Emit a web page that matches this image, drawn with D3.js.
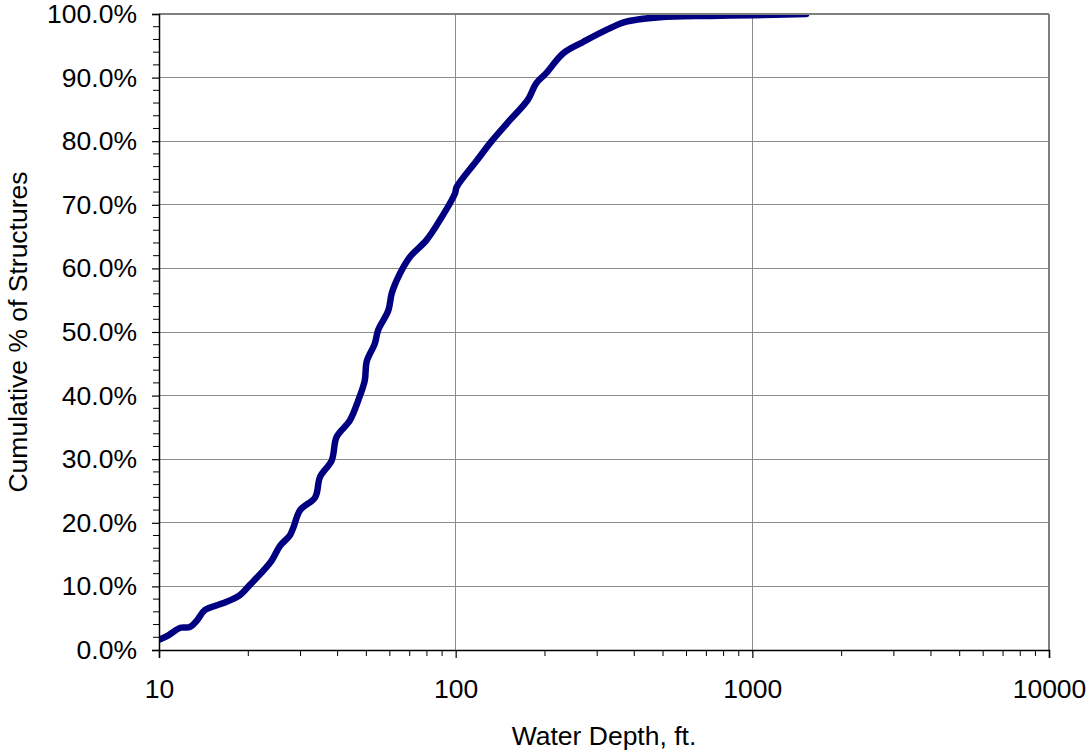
<!DOCTYPE html>
<html>
<head>
<meta charset="utf-8">
<script src="https://cdn.jsdelivr.net/npm/d3@7"></script>
<style>
  html, body { margin: 0; padding: 0; background: #fff; }
  svg { display: block; font-family: "Liberation Sans", Arial, sans-serif; }
</style>
</head>
<body>
<svg id="chart" width="1086" height="751"></svg>
<script>
// Water depth (ft) and cumulative share of structures (%)
const depthFt = [10, 10.75, 11.8, 12.7, 13.4, 14.3, 16.3, 18.7, 20.3, 22.2, 24.0, 25.6, 27.6, 28.4,
  29.9, 33.6, 34.9, 38.2, 39.7, 44.0, 47.0, 49.4, 50.1, 53.4, 54.8, 59.3, 60.9, 64.9, 70.1, 79.6,
  88.5, 99.5, 100.8, 118, 130.6, 152.3, 175, 186.8, 202, 230, 269, 322, 376, 488, 718, 1000, 1520];
const cumulativePct = [1.6, 2.3, 3.5, 3.6, 4.6, 6.3, 7.3, 8.6, 10.3, 12.2, 14.1, 16.4, 18.0, 19.3,
  22.0, 24.0, 27.2, 29.8, 33.5, 36.1, 39.3, 42.4, 45.3, 48.2, 50.3, 53.4, 56.1, 59.2, 61.8, 64.4,
  67.6, 71.8, 72.8, 77.0, 79.7, 83.3, 86.5, 89.1, 90.7, 93.8, 95.6, 97.5, 98.8, 99.5, 99.7, 99.8, 100];

const xTickValues = [10, 100, 1000, 10000];
const yTickValues = [0, 10, 20, 30, 40, 50, 60, 70, 80, 90, 100];

(function drawChart() {
  const svg = d3.select("#chart");
  const plotL = 159, plotR = 1049, plotT = 14, plotB = 650;
  const fontPx = 26.5;

  const x = d3.scaleLog().domain([10, 10000]).range([plotL, plotR]);
  const y = d3.scaleLinear().domain([0, 100]).range([plotB, plotT]);

  // minor tick positions
  const xMinor = [];
  [10, 100, 1000].forEach(d => { for (let k = 2; k <= 9; k++) xMinor.push(d * k); });
  const yMinor = d3.range(0, 100.01, 2).filter(v => v % 10 !== 0);

  // gridlines
  const grid = svg.append("g").attr("stroke", "#8c8c8c").attr("stroke-width", 1).attr("shape-rendering", "crispEdges");
  grid.selectAll("line.h").data(yTickValues.slice(1, -1)).join("line")
    .attr("x1", plotL).attr("x2", plotR).attr("y1", d => y(d)).attr("y2", d => y(d));
  grid.selectAll("line.v").data(xTickValues.slice(1, -1)).join("line")
    .attr("y1", plotT).attr("y2", plotB).attr("x1", d => x(d)).attr("x2", d => x(d));

  // data line
  svg.append("clipPath").attr("id", "plotClip").append("rect")
    .attr("x", plotL).attr("y", plotT + 1).attr("width", plotR - plotL).attr("height", plotB - plotT);
  const line = d3.line()
    .x((d, i) => x(depthFt[i]))
    .y((d, i) => y(cumulativePct[i]))
    .curve(d3.curveCatmullRom.alpha(0.5));
  svg.append("path")
    .attr("clip-path", "url(#plotClip)")
    .attr("d", line(depthFt))
    .attr("fill", "none")
    .attr("stroke", "#000080")
    .attr("stroke-width", 6.5)
    .attr("stroke-linejoin", "round")
    .attr("stroke-linecap", "round");

  // top and right plot frame
  svg.append("line").attr("x1", plotL).attr("x2", plotR).attr("y1", plotT).attr("y2", plotT)
    .attr("stroke", "#808080").attr("stroke-width", 2);
  svg.append("line").attr("x1", plotR).attr("x2", plotR).attr("y1", plotT).attr("y2", plotB)
    .attr("stroke", "#808080").attr("stroke-width", 2);

  // Y axis
  const yAxis = d3.axisLeft(y).tickValues(yTickValues).tickFormat(d => d.toFixed(1) + "%").tickSize(7).tickPadding(15);
  const gy = svg.append("g").attr("transform", `translate(${plotL},0)`).call(yAxis);
  gy.select(".domain").attr("stroke", "#000").attr("stroke-width", 1.5);
  gy.selectAll(".tick line").attr("stroke", "#000").attr("stroke-width", 1.2);
  gy.selectAll("text").attr("font-size", fontPx).attr("fill", "#000").attr("font-family", "Liberation Sans, Arial, sans-serif");
  svg.append("g").selectAll("line").data(yMinor).join("line")
    .attr("x1", plotL - 6).attr("x2", plotL).attr("y1", d => y(d)).attr("y2", d => y(d))
    .attr("stroke", "#000").attr("stroke-width", 1);

  // X axis
  const xAxis = d3.axisBottom(x).tickValues(xTickValues).tickFormat(d3.format("d")).tickSize(8).tickPadding(21);
  const gx = svg.append("g").attr("transform", `translate(0,${plotB})`).call(xAxis);
  gx.select(".domain").attr("stroke", "#000").attr("stroke-width", 1.5);
  gx.selectAll(".tick line").attr("stroke", "#000").attr("stroke-width", 1.2);
  gx.selectAll("text").attr("font-size", fontPx).attr("fill", "#000").attr("font-family", "Liberation Sans, Arial, sans-serif");
  svg.append("g").selectAll("line").data(xMinor).join("line")
    .attr("x1", d => x(d)).attr("x2", d => x(d)).attr("y1", plotB).attr("y2", plotB + 6)
    .attr("stroke", "#000").attr("stroke-width", 1);

  // axis titles
  svg.append("text").attr("x", (plotL + plotR) / 2).attr("y", 745).attr("text-anchor", "middle")
    .attr("font-size", fontPx).attr("fill", "#000").text("Water Depth, ft.");
  svg.append("text").attr("transform", `translate(27,${(plotT + plotB) / 2}) rotate(-90)`)
    .attr("text-anchor", "middle").attr("font-size", fontPx).attr("fill", "#000")
    .text("Cumulative % of Structures");
})();
</script>
</body>
</html>
